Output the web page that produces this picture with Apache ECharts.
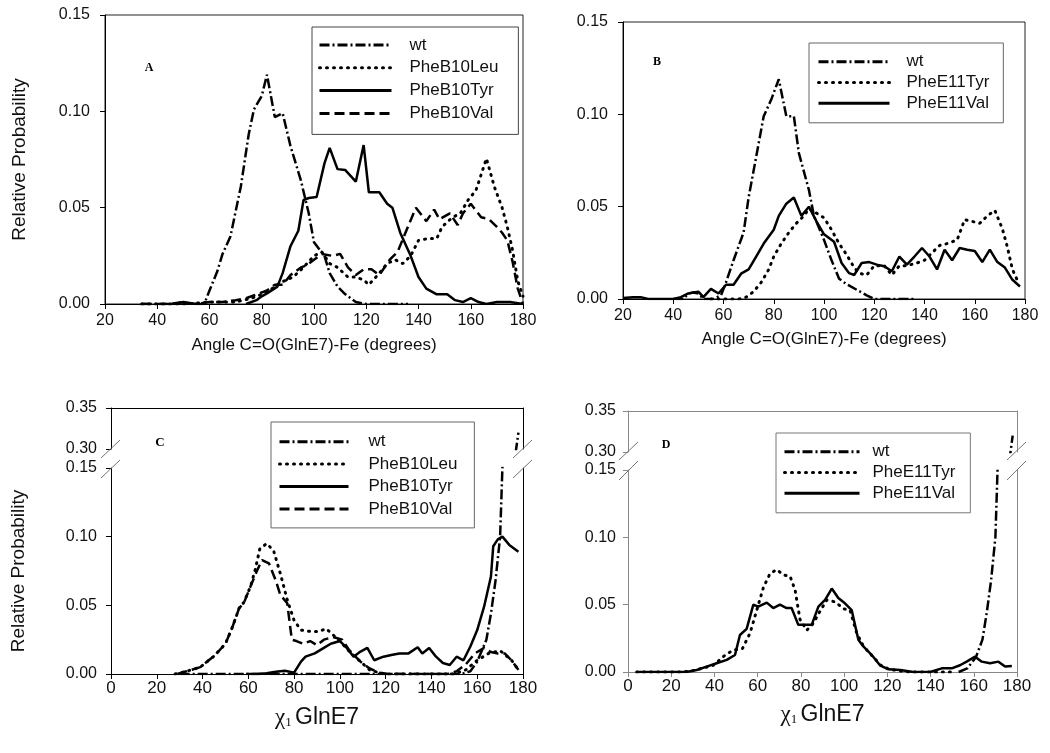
<!DOCTYPE html>
<html>
<head>
<meta charset="utf-8">
<script src="https://cdn.jsdelivr.net/npm/echarts@6/dist/echarts.min.js"></script>
<style>
html,body{margin:0;padding:0;background:#fff;}
#chart{width:1050px;height:753px;}
</style>
</head>
<body>
<div id="chart"></div>
<script>
// ---------------- DATA ----------------
// Panel A: angle C=O(GlnE7)-Fe, B10 mutants
const A_wt = [[34,0],[40,0],[46,0],[50,0.001],[54,0],[58,0],[60,0.007],[63,0.017],[65,0.026],[68,0.035],[70,0.048],[72,0.061],[75,0.088],[77,0.101],[80,0.108],[82,0.119],[85,0.097],[88,0.099],[91,0.082],[95,0.064],[98,0.047],[100,0.032],[104,0.025],[106,0.016],[109,0.009],[112,0.005],[116,0.001],[120,0],[128,0],[136,0]];
const A_leu = [[34,0],[50,0],[60,0.001],[70,0.001],[76,0.003],[80,0.005],[84,0.008],[87,0.011],[92,0.014],[96,0.019],[100,0.025],[103,0.027],[106,0.021],[109,0.019],[113,0.014],[116,0.014],[119,0.0125],[121,0.010],[125,0.016],[128,0.021],[131,0.023],[134,0.021],[137,0.025],[140,0.033],[144,0.034],[147,0.034],[149,0.040],[153,0.045],[156,0.047],[159,0.054],[162,0.059],[166,0.0755],[169,0.061],[172,0.050],[174,0.040],[176,0.028],[178,0.012],[180,0.004]];
const A_tyr = [[74,0],[78,0.002],[80,0.004],[82,0.0055],[86,0.009],[88,0.016],[91,0.030],[94,0.038],[96,0.054],[98,0.055],[101,0.0555],[104,0.073],[106,0.081],[109,0.070],[112,0.0695],[116,0.0635],[119,0.0825],[121,0.058],[125,0.058],[128,0.052],[130,0.050],[133,0.037],[137,0.025],[140,0.014],[143,0.008],[147,0.005],[151,0.005],[154,0.002],[157,0.001],[160,0.003],[163,0.001],[166,0],[170,0.001],[175,0.001],[180,0]];
const A_val = [[34,0],[45,0],[50,0.001],[55,0],[60,0.001],[65,0.001],[70,0.002],[74,0.003],[78,0.005],[82,0.007],[85,0.010],[88,0.010],[91,0.015],[95,0.019],[97,0.020],[100,0.023],[103,0.026],[107,0.025],[110,0.026],[113,0.019],[116,0.015],[119,0.018],[122,0.018],[125,0.015],[129,0.023],[132,0.027],[135,0.037],[139,0.050],[143,0.043],[146,0.049],[148,0.044],[152,0.047],[155,0.041],[157,0.047],[160,0.052],[164,0.045],[167,0.044],[170,0.040],[172,0.037],[174,0.033],[176,0.022],[178,0.008],[180,0]];

// Panel B: angle C=O(GlnE7)-Fe, E11 mutants
const B_wt = [[40,0],[44,0],[46,0.003],[48,0.0035],[50,0.003],[52,0],[56,0],[59,0.002],[61,0.009],[64,0.021],[68,0.036],[70,0.055],[73,0.077],[76,0.099],[79,0.108],[82,0.119],[85,0.099],[88,0.099],[90,0.079],[94,0.059],[96,0.045],[100,0.032],[103,0.021],[106,0.011],[109,0.008],[113,0.005],[117,0.002],[120,0],[128,0],[136,0]];
const B_tyr = [[55,0],[60,0],[66,0],[69,0.001],[72,0.004],[75,0.009],[78,0.016],[80,0.023],[83,0.030],[86,0.036],[89,0.041],[92,0.045],[94,0.049],[97,0.0465],[100,0.044],[103,0.0375],[106,0.030],[109,0.024],[112,0.017],[114,0.014],[117,0.013],[120,0.018],[124,0.018],[127,0.013],[130,0.018],[133,0.018],[137,0.0195],[140,0.021],[143,0.025],[146,0.029],[149,0.030],[153,0.032],[156,0.043],[159,0.042],[162,0.041],[165,0.045],[168,0.048],[171,0.038],[173,0.028],[175,0.016],[177,0.010]];
const B_val = [[20,0.0005],[24,0.001],[27,0.001],[30,0],[35,0],[40,0],[43,0.001],[46,0.003],[50,0.004],[52,0.001],[55,0.0055],[58,0.003],[61,0.0077],[64,0.0077],[67,0.0137],[70,0.016],[73,0.023],[76,0.030],[80,0.0375],[82,0.045],[85,0.0516],[88,0.055],[91,0.045],[94,0.050],[97,0.042],[100,0.035],[104,0.031],[107,0.0195],[110,0.014],[112,0.013],[115,0.0195],[118,0.020],[121,0.0186],[124,0.0177],[127,0.015],[130,0.023],[133,0.0186],[136,0.023],[139,0.0276],[142,0.023],[145,0.016],[148,0.0267],[151,0.021],[154,0.0276],[157,0.0267],[160,0.026],[163,0.020],[166,0.0267],[169,0.020],[172,0.017],[175,0.0104],[178,0.0068]];

// Panel C: chi1 GlnE7, B10 mutants
const C_wt = [[30,0],[60,0],[90,0],[110,0],[120,0],[130,0],[140,0],[150,0],[153,0],[157,0.002],[160,0.009],[164,0.025],[166,0.044],[168,0.068],[170,0.10],[171,0.15],[173,0.20],[175,0.25],[177,0.30],[178,0.32]];
const C_leu = [[28,0],[33,0.002],[39,0.005],[45,0.013],[50,0.022],[53,0.034],[56,0.048],[58,0.052],[61,0.064],[63,0.076],[65,0.091],[68,0.095],[71,0.090],[74,0.073],[77,0.054],[80,0.039],[83,0.032],[87,0.031],[91,0.031],[94,0.033],[98,0.027],[101,0.022],[105,0.015],[109,0.009],[113,0.003],[117,0.001],[120,0],[140,0],[150,0],[155,0.003],[160,0.010],[165,0.015],[170,0.017],[175,0.010],[178,0.003]];
const C_tyr = [[59,0],[64,0],[68,0.0005],[72,0.0017],[76,0.0024],[80,0.001],[83,0.009],[85,0.0126],[89,0.015],[93,0.019],[96,0.022],[100,0.024],[103,0.019],[106,0.0126],[109,0.0163],[112,0.019],[115,0.010],[119,0.0126],[123,0.014],[126,0.015],[130,0.015],[134,0.0195],[136,0.015],[139,0.019],[142,0.0126],[145,0.008],[148,0.0066],[151,0.0126],[154,0.010],[157,0.020],[160,0.032],[163,0.049],[166,0.071],[167,0.093],[169,0.098],[171,0.100],[174,0.094],[178,0.089]];
const C_val = [[29,0],[33,0.002],[39,0.005],[45,0.013],[50,0.022],[53,0.034],[56,0.048],[58,0.0515],[61,0.064],[64,0.076],[66,0.083],[69,0.0806],[72,0.068],[74,0.0575],[77,0.0515],[79,0.025],[81,0.024],[84,0.022],[87,0.024],[90,0.021],[93,0.025],[97,0.027],[101,0.025],[104,0.0175],[109,0.009],[113,0.004],[117,0.001],[121,0],[130,0],[140,0],[147,0],[151,0.002],[155,0.007],[159,0.015],[163,0.019],[166,0.016],[169,0.015],[172,0.015],[175,0.010],[178,0.003]];

// Panel D: chi1 GlnE7, E11 mutants
const D_wt = [[153,0],[157,0.0027],[161,0.011],[164,0.024],[166,0.044],[168,0.068],[170,0.10],[171,0.15],[173,0.20],[175,0.25],[177,0.30],[178,0.32]];
const D_tyr = [[4,0],[15,0],[25,0],[30,0.001],[35,0.003],[39.5,0.005],[45,0.0126],[48.7,0.0163],[53,0.0175],[56.5,0.029],[59.6,0.046],[62.7,0.063],[65.7,0.073],[68.8,0.076],[72,0.072],[75,0.071],[77.3,0.061],[79.6,0.039],[82.7,0.031],[85.7,0.036],[88.8,0.045],[92,0.0535],[96,0.052],[99.6,0.047],[102.7,0.046],[105.8,0.029],[109,0.019],[113,0.012],[117,0.005],[121,0.002],[125,0.001],[130,0],[140,0],[150,0]];
const D_val = [[4,0],[10,0],[20,0],[27,0],[31.8,0.0015],[36.4,0.004],[41,0.0065],[45.7,0.009],[49.5,0.0126],[51.8,0.0275],[54.9,0.032],[58,0.050],[60.3,0.0485],[64.2,0.0515],[67.2,0.0475],[70.3,0.050],[73.4,0.0475],[75.7,0.0475],[78.8,0.035],[81.9,0.035],[85,0.035],[88.1,0.0485],[91.2,0.0535],[94.3,0.062],[97.3,0.055],[100.4,0.051],[103.5,0.046],[106.6,0.024],[108.9,0.019],[112.8,0.0126],[116.6,0.005],[120.5,0.002],[126,0.0015],[132,0],[139.8,0],[145.2,0.0027],[149.8,0.0027],[153.6,0.005],[156.7,0.0077],[160.6,0.0114],[163.7,0.0077],[167.5,0.0065],[171.4,0.0077],[174.5,0.004],[177.6,0.0045]];

// Names / labels
const namesA = ['wt','PheB10Leu','PheB10Tyr','PheB10Val'];
const namesB = ['wt','PheE11Tyr','PheE11Val'];
const yTitle = 'Relative Probability';
const xTitleAngle = 'Angle C=O(GlnE7)-Fe (degrees)';
const panelLetters = ['A','B','C','D'];

// ---------------- STYLES ----------------
const FONT = '"Liberation Sans", Arial, sans-serif';
const styles = {
  dashdot: {color:'#000', width:2.5, type:[10,3,2,3]},
  dotted:  {color:'#000', width:3, type:[1,6], cap:'round'},
  solid:   {color:'#000', width:2.5, type:'solid'},
  dashed:  {color:'#000', width:2.5, type:[10,5]}
};
function ser(name, data, st, xi, yi){
  return {type:'line', name, data, xAxisIndex:xi, yAxisIndex:yi, symbol:'none', showSymbol:false,
    lineStyle: styles[st], itemStyle:{color:'#000'}, clip:true, animation:false, z:3};
}
const fmt2 = v => v.toFixed(2);

// ---------------- GRIDS ----------------
const grids = [
  {left:105, top:15, width:418, height:289, show:true, borderColor:'#222', borderWidth:1},  // 0 A
  {left:623, top:22, width:402, height:277, show:true, borderColor:'#222', borderWidth:1},  // 1 B
  {left:111, top:468, width:412, height:206, show:false},  // 2 C lower
  {left:111, top:408, width:412, height:41, show:false},   // 3 C upper
  {left:628, top:470, width:389, height:202, show:false},  // 4 D lower
  {left:628, top:411, width:389, height:41, show:false}    // 5 D upper
].map(g => Object.assign({containLabel:false, outerBoundsMode:'none'}, g));

function xMain(gi, min, name, nameGap, color, labelFont, labelMargin, nameStyle){
  return {type:'value', gridIndex:gi, min, max:180, interval:20, position:'bottom',
    name, nameLocation:'middle', nameGap,
    nameTextStyle: nameStyle,
    axisLine:{show:true, onZero:false, lineStyle:{color, width:1}},
    axisTick:{show:true, inside:false, length:5, lineStyle:{color}},
    axisLabel:{color:'#111', fontSize:labelFont.size, fontFamily:labelFont.family, margin:labelMargin},
    splitLine:{show:false}};
}
function xTopLine(gi, min, color){
  return {type:'value', gridIndex:gi, min, max:180, position:'top',
    axisLine:{show:true, onZero:false, lineStyle:{color, width:1}},
    axisTick:{show:false}, axisLabel:{show:false}, splitLine:{show:false}};
}
function yMain(gi, min, max, color, margin, name){
  const o = {type:'value', gridIndex:gi, min, max, interval:0.05, position:'left',
    axisLine:{show:true, onZero:false, lineStyle:{color, width:1}},
    axisTick:{show:true, length:5, lineStyle:{color}},
    axisLabel:{color:'#111', fontSize:16, fontFamily:FONT, margin, formatter:fmt2},
    splitLine:{show:false}};
  if(name){ Object.assign(o, {nameLocation:'middle', nameGap:name.gap, name:name.text,
    nameTextStyle:{fontSize:19, fontFamily:FONT, color:'#111'}}); }
  return o;
}
function yRightLine(gi, min, max, color){
  return {type:'value', gridIndex:gi, min, max, position:'right',
    axisLine:{show:true, onZero:false, lineStyle:{color, width:1}},
    axisTick:{show:false}, axisLabel:{show:false}, splitLine:{show:false}};
}

const angleName = {fontSize:17, fontFamily:FONT, color:'#111'};
const chiName = {color:'#111', rich:{
  chi:{fontFamily:'"Liberation Serif", "Times New Roman", serif', fontSize:23, color:'#111'},
  sub:{fontFamily:'"Liberation Serif", "Times New Roman", serif', fontSize:13, color:'#111', padding:[10,0,0,0]},
  t:{fontFamily:FONT, fontSize:23, color:'#111'}
}};
const narrowFont = {size:17, family:FONT};
const normFont = {size:16, family:FONT};

const xAxes = [
  xMain(0, 20, xTitleAngle, 33, '#000', normFont, 9, angleName),      // 0 A
  xMain(1, 20, xTitleAngle, 32, '#000', normFont, 9, angleName),      // 1 B
  xMain(2, 0, '{chi|χ}{sub|1} {t|GlnE7}', 32, '#000', narrowFont, 6, chiName), // 2 C lower
  xTopLine(3, 0, '#000'),                                              // 3 C upper
  xMain(4, 0, '{chi|χ}{sub|1} {t|GlnE7}', 31, '#888', narrowFont, 6, chiName), // 4 D lower
  xTopLine(5, 0, '#888')                                               // 5 D upper
];
const yAxes = [
  yMain(0, 0, 0.15, '#000', 15, {text:yTitle, gap:76}), // 0 A
  yMain(1, 0, 0.15, '#000', 15),                        // 1 B
  yMain(2, 0, 0.15, '#000', 14, {text:yTitle, gap:83}), // 2 C lower
  yMain(3, 0.30, 0.35, '#000', 14),                     // 3 C upper
  yMain(4, 0, 0.15, '#888', 12),                        // 4 D lower
  yMain(5, 0.30, 0.35, '#888', 12),                     // 5 D upper
  yRightLine(2, 0, 0.15, '#000'),                       // 6 C lower right
  yRightLine(3, 0.30, 0.35, '#000'),                    // 7 C upper right
  yRightLine(4, 0, 0.15, '#888'),                       // 8 D lower right
  yRightLine(5, 0.30, 0.35, '#888')                     // 9 D upper right
];

const series = [
  ser('wt', A_wt, 'dashdot', 0, 0),
  ser('PheB10Leu', A_leu, 'dotted', 0, 0),
  ser('PheB10Tyr', A_tyr, 'solid', 0, 0),
  ser('PheB10Val', A_val, 'dashed', 0, 0),

  ser('wt', B_wt, 'dashdot', 1, 1),
  ser('PheE11Tyr', B_tyr, 'dotted', 1, 1),
  ser('PheE11Val', B_val, 'solid', 1, 1),

  ser('wt', C_wt, 'dashdot', 2, 2),
  ser('PheB10Leu', C_leu, 'dotted', 2, 2),
  ser('PheB10Tyr', C_tyr, 'solid', 2, 2),
  ser('PheB10Val', C_val, 'dashed', 2, 2),
  ser('wt', C_wt, 'dashdot', 3, 3),

  ser('wt', D_wt, 'dashdot', 4, 4),
  ser('PheE11Tyr', D_tyr, 'dotted', 4, 4),
  ser('PheE11Val', D_val, 'solid', 4, 4),
  ser('wt', D_wt, 'dashdot', 5, 5)
];

function legend(names, left, top, itemWidth, itemGap, pad, textPad, border){
  return {data:names, orient:'vertical', left, top, itemWidth, itemHeight:14, itemGap,
    padding:pad, borderColor:border, borderWidth:1, backgroundColor:'#fff',
    selectedMode:false,
    itemStyle:{color:'rgba(0,0,0,0)', borderColor:'rgba(0,0,0,0)', borderWidth:0, opacity:0},
    lineStyle:{width:3},
    textStyle:{fontSize:17, fontFamily:FONT, color:'#111', padding:[0,0,0,textPad]}};
}
const legends = [
  legend(namesA, 312, 27, 72, 5.8, [9.5,20,12.5,6], 13, '#444'),
  legend(namesB, 809, 43, 71, 3.8, [10.2,14,11,8], 12, '#666'),
  legend(namesA, 271, 422, 69, 5.4, [11.2,17,10.5,7], 15, '#666'),
  legend(namesB, 776, 433, 75, 3.8, [10.2,15,11,7], 8, '#777')
];

// axis-break slashes & panel letters
function seg(x1,y1,x2,y2,c){ return {type:'line', shape:{x1,y1,x2,y2}, style:{stroke:c, lineWidth:1}, z:10, silent:true}; }
function letter(t,x,y,s){ return {type:'text', x, y, style:{text:t, font:'bold '+s+'px "Liberation Serif", "Times New Roman", serif', fill:'#000', align:'center', verticalAlign:'middle'}, z:10}; }
const graphics = [
  letter(panelLetters[0],149,68,12), letter(panelLetters[1],657,62,12),
  letter(panelLetters[2],160,443,13), letter(panelLetters[3],666,445,12),
  seg(101,458,120,440,'#777'), seg(101,478,120,460,'#777'),
  seg(513,458,532,440,'#777'), seg(513,478,532,460,'#777'),
  seg(619,460,638,442,'#777'), seg(619,480,638,461,'#777'),
  seg(1007,460,1026,442,'#777'), seg(1007,480,1026,461,'#777')
];

const chart = echarts.init(document.getElementById('chart'), null, {renderer:'canvas', width:1050, height:753});
chart.setOption({
  backgroundColor:'#fff',
  animation:false,
  textStyle:{fontFamily:FONT},
  grid: grids,
  xAxis: xAxes,
  yAxis: yAxes,
  legend: legends,
  series: series,
  graphic: graphics
});
</script>
</body>
</html>
